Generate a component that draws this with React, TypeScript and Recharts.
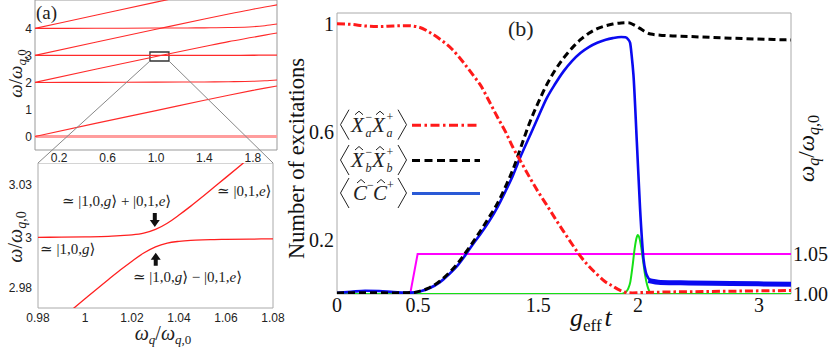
import React from 'react';
import { LineChart, Line, XAxis, YAxis, ReferenceArea, ReferenceLine, ReferenceDot, Legend } from 'recharts';

const SERIF = "'Liberation Serif','DejaVu Serif',serif";
const SANS = "'Liberation Sans','DejaVu Sans',sans-serif";

// ---------- Panel (a), top: energy levels vs omega_q / omega_q,0
const levelX = [0, 0.5, 1.0, 1.4, 1.6, 1.8, 1.9, 2.0];
const levelH0 = [0, 0, 0, 0, 0, 0, 0, 0];
const levelQ0 = [0, 0.485, 0.958, 1.339, 1.526, 1.705, 1.79, 1.87];
const levelH2 = [2, 2.003, 2.012, 2.018, 2.026, 2.041, 2.06, 2.09];
const levelQ2 = [2, 2.485, 2.958, 3.33, 3.51, 3.67, 3.75, 3.83];
const levelH3 = [3, 3, 3, 3, 3.003, 3.006, 3.008, 3.01];
const levelQ3 = [3, 3.485, 3.965, 4.345, 4.53, 4.71, 4.79, 4.87];
const levelH4 = [4, 4.003, 4.012, 4.02, 4.03, 4.06, 4.1, 4.16];
const levelQ4 = [4, 4.485, 4.97, 5.35, 5.54, 5.73, 5.82, 5.9];
const levelXTicks = [0.2, 0.6, 1.0, 1.4, 1.8];
const levelXTickLabels = ['0.2', '0.6', '1.0', '1.4', '1.8'];
const levelYTicks = [0, 1, 2, 3, 4];

// ---------- Panel (a), inset: avoided crossing
const insetX = [0.98, 0.99, 1.0, 1.01, 1.015, 1.02, 1.025, 1.03, 1.035, 1.04, 1.045, 1.05, 1.055, 1.06, 1.07, 1.08];
const insetUpper = [3.0003, 3.0004, 3.0005, 3.0007, 3.001, 3.0013, 3.002, 3.0035, 3.006, 3.0093, 3.0129, 3.0167, 3.0206, 3.0245, 3.0324, 3.0403];
const insetLower = [2.9597, 2.9676, 2.9755, 2.9833, 2.9871, 2.9907, 2.994, 2.9965, 2.998, 2.9987, 2.9991, 2.9993, 2.9994, 2.9995, 2.9996, 2.9997];
const insetXTicks = [0.98, 1.0, 1.02, 1.04, 1.06, 1.08];
const insetXTickLabels = ['0.98', '1', '1.02', '1.04', '1.06', '1.08'];
const insetYTicks = [2.98, 3.0, 3.0214];
const insetYTickLabels = ['2.98', '3', '3.03'];

// ---------- Panel (b): excitations vs g_eff t
const bXTicks = [0, 0.575, 1.43, 2.14, 3.0];
const bXTickLabels = ['0', '0.5', '1.5', '2', '3'];
const bLeftTicks = [0.2, 0.6, 1];
const bRightTicks = [1.0, 1.05];

const xaT = [0, 0.1, 0.2, 0.3, 0.4, 0.5, 0.58, 0.66, 0.74, 0.82, 0.9, 0.97, 1.02, 1.08, 1.14, 1.2, 1.25, 1.31, 1.37, 1.43, 1.49, 1.55, 1.61, 1.67, 1.73, 1.79, 1.85, 1.9, 1.96, 2.01, 2.06, 2.1, 2.15, 2.3, 2.6, 2.9, 3.227];
const xaN = [1.0, 0.998, 0.992, 0.99, 0.992, 0.993, 0.988, 0.968, 0.94, 0.905, 0.856, 0.808, 0.773, 0.715, 0.655, 0.598, 0.543, 0.487, 0.431, 0.378, 0.33, 0.28, 0.232, 0.185, 0.14, 0.103, 0.072, 0.048, 0.029, 0.014, 0.005, 0.004, 0.005, 0.007, 0.009, 0.011, 0.013];

const xbT = [0, 0.2, 0.4, 0.5, 0.55, 0.6, 0.66, 0.73, 0.79, 0.85, 0.91, 0.97, 1.02, 1.08, 1.14, 1.2, 1.25, 1.31, 1.37, 1.43, 1.49, 1.55, 1.61, 1.67, 1.73, 1.79, 1.85, 1.91, 1.96, 2.02, 2.07, 2.11, 2.15, 2.19, 2.23, 2.32, 2.5, 2.8, 3.227];
const xbN = [0.004, 0.005, 0.004, 0.005, 0.006, 0.012, 0.024, 0.047, 0.075, 0.108, 0.15, 0.195, 0.234, 0.283, 0.335, 0.4, 0.46, 0.548, 0.635, 0.708, 0.774, 0.828, 0.873, 0.91, 0.941, 0.965, 0.982, 0.993, 0.999, 1.003, 1.004, 0.996, 0.984, 0.971, 0.962, 0.957, 0.953, 0.947, 0.94];

const cT = [0, 0.1, 0.2, 0.3, 0.4, 0.5, 0.55, 0.6, 0.66, 0.73, 0.79, 0.85, 0.91, 0.97, 1.02, 1.08, 1.14, 1.2, 1.25, 1.31, 1.37, 1.43, 1.49, 1.55, 1.61, 1.67, 1.73, 1.79, 1.85, 1.91, 1.96, 2.02, 2.05, 2.07, 2.083, 2.095, 2.107, 2.131, 2.154, 2.178, 2.195, 2.213, 2.24];
const cN = [0.004, 0.008, 0.012, 0.011, 0.007, 0.005, 0.006, 0.011, 0.022, 0.043, 0.07, 0.101, 0.142, 0.187, 0.222, 0.268, 0.321, 0.383, 0.438, 0.515, 0.585, 0.655, 0.724, 0.777, 0.824, 0.862, 0.892, 0.914, 0.93, 0.941, 0.947, 0.951, 0.95, 0.942, 0.93, 0.88, 0.812, 0.565, 0.318, 0.133, 0.08, 0.059, 0.047];
const cTailT = [2.213, 2.3, 2.5, 2.8, 3.227];
const cTailN = [0.05, 0.043, 0.041, 0.039, 0.036];

const gT = [0, 2.02, 2.05, 2.07, 2.085, 2.1, 2.115, 2.128, 2.138, 2.148, 2.16, 2.175, 2.19, 2.205, 2.22, 2.24, 2.26, 3.227];
const gN = [0, 0, 0.006, 0.02, 0.045, 0.1, 0.165, 0.205, 0.218, 0.21, 0.18, 0.125, 0.07, 0.032, 0.01, 0.001, 0, 0];

const mT = [0, 0.52, 0.573, 3.227];
const mN = [1.0, 1.0, 1.05, 1.05];

// ---------- tables built from the arrays
const levelRows = levelX.map((x, i) => ({
  x, h0: levelH0[i], q0: levelQ0[i], h2: levelH2[i], q2: levelQ2[i], h3: levelH3[i],
  q3: levelQ3[i], h4: levelH4[i], q4: levelQ4[i],
}));
const insetRows = insetX.map((x, i) => ({ x, upper: insetUpper[i], lower: insetLower[i] }));
const zip = (xs: number[], ys: number[]) => xs.map((x, i) => ({ x, y: ys[i] }));
const xaData = zip(xaT, xaN);
const xbData = zip(xbT, xbN);
const cData = zip(cT, cN);
const cTailData = zip(cTailT, cTailN);
const gData = zip(gT, gN);
const mData = zip(mT, mN);

const fmt = (ticks: number[], labels: string[]) => (v: number) => {
  const i = ticks.findIndex((t) => Math.abs(t - v) < 1e-9);
  return i >= 0 ? labels[i] : String(v);
};

const RED = '#ff2a2a';

function Ket({ cx, cy, parts, size }: any) {
  return (
    <text x={cx} y={cy} fontFamily={SERIF} fontSize={size} fill="#222">
      {parts.map((p: any, i: number) => (
        <tspan key={i} fontStyle={p.it ? 'italic' : 'normal'}>{p.t}</tspan>
      ))}
    </text>
  );
}

const ketPlus = [{ t: '≃ |1,0,' }, { t: 'g', it: true }, { t: '⟩ + |0,1,' }, { t: 'e', it: true }, { t: '⟩' }];
const ketMinus = [{ t: '≃ |1,0,' }, { t: 'g', it: true }, { t: '⟩ − |0,1,' }, { t: 'e', it: true }, { t: '⟩' }];
const ketE = [{ t: '≃ |0,1,' }, { t: 'e', it: true }, { t: '⟩' }];
const ketG = [{ t: '≃ |1,0,' }, { t: 'g', it: true }, { t: '⟩' }];

function LegendBox() {
  const rows = [
    { cy: 24.7, kind: 'X', sub: 'a', color: '#ff1a1a', dash: '9 3.5 2.5 3.5' },
    { cy: 60, kind: 'X', sub: 'b', color: '#000', dash: '8 4.5' },
    { cy: 93, kind: 'C', sub: '', color: '#2a5ad6', dash: undefined as any },
  ];
  return (
    <svg width={150} height={115} style={{ overflow: 'visible' }}>
      {rows.map((r, k) => {
        const L = r.kind === 'X' ? 'X' : 'C';
        const x1 = r.kind === 'X' ? 15 : 17;
        const x2 = r.kind === 'X' ? 36 : 37;
        const s1 = r.kind === 'X' ? 29.5 : 31;
        const s2 = r.kind === 'X' ? 50.5 : 51;
        return (
          <g key={k}>
            <path d={`M13 ${r.cy - 15} L4.5 ${r.cy} L13 ${r.cy + 15}`} stroke="#222" fill="none" strokeWidth={1} />
            <path d={`M62 ${r.cy - 15} L70.5 ${r.cy} L62 ${r.cy + 15}`} stroke="#222" fill="none" strokeWidth={1} />
            <text x={x1} y={r.cy + 7} fontFamily={SERIF} fontStyle="italic" fontSize={21} fill="#222">{L}</text>
            <path d={`M${x1 + 4} ${r.cy - 10} L${x1 + 8} ${r.cy - 13.5} L${x1 + 12} ${r.cy - 10}`} stroke="#222" fill="none" strokeWidth={1} />
            <text x={s1} y={r.cy - 4} fontFamily={SERIF} fontSize={12} fill="#222">−</text>
            {r.sub && <text x={s1} y={r.cy + 12} fontFamily={SERIF} fontStyle="italic" fontSize={12} fill="#222">{r.sub}</text>}
            <text x={x2} y={r.cy + 7} fontFamily={SERIF} fontStyle="italic" fontSize={21} fill="#222">{L}</text>
            <path d={`M${x2 + 4} ${r.cy - 10} L${x2 + 8} ${r.cy - 13.5} L${x2 + 12} ${r.cy - 10}`} stroke="#222" fill="none" strokeWidth={1} />
            <text x={s2} y={r.cy - 4} fontFamily={SERIF} fontSize={12} fill="#222">+</text>
            {r.sub && <text x={s2} y={r.cy + 12} fontFamily={SERIF} fontStyle="italic" fontSize={12} fill="#222">{r.sub}</text>}
            <line x1={76} x2={144} y1={r.cy + 0.5} y2={r.cy + 0.5} stroke={r.color} strokeWidth={3} strokeDasharray={r.dash} />
          </g>
        );
      })}
    </svg>
  );
}

export default function App() {
  const topTick = { fontSize: 12, fill: '#222', fontFamily: SANS };
  const bTick = { fontSize: 20, fill: '#111', fontFamily: SERIF };
  return (
    <div style={{ position: 'absolute', left: 0, top: 0, width: 830, height: 348, background: '#fff', overflow: 'hidden' }}>
      {/* Panel (a) top */}
      <div style={{ position: 'absolute', left: 0, top: 0 }}>
        <LineChart width={280} height={170} data={levelRows} margin={{ top: 0, right: 3, bottom: 0, left: 0 }}>
          <XAxis dataKey="x" type="number" domain={[0, 2]} ticks={levelXTicks} tickFormatter={fmt(levelXTicks, levelXTickLabels)}
            axisLine={false} tickLine={false} tickSize={0} tickMargin={3} height={20} interval={0} tick={topTick} allowDataOverflow />
          <YAxis type="number" domain={[-0.5, 5.05]} ticks={levelYTicks} width={35} axisLine={false} tickLine={false}
            tickSize={0} tickMargin={3} interval={0} tick={topTick} allowDataOverflow />
          <ReferenceArea x1={0} x2={2} y1={-0.5} y2={5.05} fill="none" stroke="#999" strokeWidth={1} />
          <Line dataKey="h0" stroke="#ff9d9d" strokeWidth={3} dot={false} isAnimationActive={false} type="linear" />
          <Line dataKey="q0" stroke={RED} strokeWidth={1.1} dot={false} isAnimationActive={false} type="monotone" />
          <Line dataKey="h2" stroke={RED} strokeWidth={1.1} dot={false} isAnimationActive={false} type="monotone" />
          <Line dataKey="q2" stroke={RED} strokeWidth={1.1} dot={false} isAnimationActive={false} type="monotone" />
          <Line dataKey="h3" stroke={RED} strokeWidth={1.3} dot={false} isAnimationActive={false} type="monotone" />
          <Line dataKey="q3" stroke={RED} strokeWidth={1.1} dot={false} isAnimationActive={false} type="monotone" />
          <Line dataKey="h4" stroke={RED} strokeWidth={1.1} dot={false} isAnimationActive={false} type="monotone" />
          <Line dataKey="q4" stroke={RED} strokeWidth={1.1} dot={false} isAnimationActive={false} type="monotone" />
          <ReferenceArea x1={0.95} x2={1.107} y1={2.793} y2={3.126} fill="none" stroke="#333" strokeWidth={1.3} />
          <ReferenceLine segment={[{ x: 0.95, y: 2.793 }, { x: 0.025, y: -0.981 }]} stroke="#888" strokeWidth={1} ifOverflow="visible" />
          <ReferenceLine segment={[{ x: 1.107, y: 2.793 }, { x: 1.967, y: -0.981 }]} stroke="#888" strokeWidth={1} ifOverflow="visible" />
        </LineChart>
      </div>

      {/* Panel (a) inset */}
      <div style={{ position: 'absolute', left: 0, top: 163 }}>
        <LineChart width={292} height={185} data={insetRows} margin={{ top: 0, right: 19, bottom: 0, left: 0 }}>
          <XAxis dataKey="x" type="number" domain={[0.98, 1.08]} ticks={insetXTicks} tickFormatter={fmt(insetXTicks, insetXTickLabels)}
            axisLine={false} tickLine={false} tickSize={0} tickMargin={5} height={40} interval={0} tick={topTick} allowDataOverflow />
          <YAxis type="number" domain={[2.9718, 3.0303]} ticks={insetYTicks} tickFormatter={fmt(insetYTicks, insetYTickLabels)}
            width={38} axisLine={false} tickLine={false} tickSize={0} tickMargin={6} interval={0} tick={topTick} allowDataOverflow />
          <ReferenceArea x1={0.98} x2={1.08} y1={2.9718} y2={3.0303} fill="none" stroke="#aaa" strokeWidth={1} />
          <Line dataKey="upper" stroke="#ff2020" strokeWidth={1.3} dot={false} isAnimationActive={false} type="monotone" />
          <Line dataKey="lower" stroke="#ff2020" strokeWidth={1.3} dot={false} isAnimationActive={false} type="monotone" />
          <ReferenceDot x={0.9902} y={3.013} r={0} shape={(p: any) => <Ket cx={p.cx} cy={p.cy} parts={ketPlus} size={15} />} />
          <ReferenceDot x={1.0562} y={3.017} r={0} shape={(p: any) => <Ket cx={p.cx} cy={p.cy} parts={ketE} size={15} />} />
          <ReferenceDot x={0.9809} y={2.9937} r={0} shape={(p: any) => <Ket cx={p.cx} cy={p.cy} parts={ketG} size={15} />} />
          <ReferenceDot x={1.0204} y={2.9824} r={0} shape={(p: any) => <Ket cx={p.cx} cy={p.cy} parts={ketMinus} size={15} />} />
          <ReferenceDot x={1.0297} y={3.0045} r={0} shape={(p: any) => (
            <path d={`M${p.cx - 2} ${p.cy - 14} h4 v7 h3 l-5 7 l-5 -7 h3 z`} fill="#111" />
          )} />
          <ReferenceDot x={1.0301} y={2.9941} r={0} shape={(p: any) => (
            <path d={`M${p.cx - 2} ${p.cy + 13} h4 v-6 h3 l-5 -7 l-5 7 h3 z`} fill="#111" />
          )} />
        </LineChart>
      </div>

      {/* Panel (b) */}
      <div style={{ position: 'absolute', left: 290, top: 0 }}>
        <LineChart width={540} height={348} margin={{ top: 13, right: 0, bottom: 0, left: 0 }}>
          <XAxis dataKey="x" type="number" domain={[0, 3.227]} ticks={bXTicks} tickFormatter={fmt(bXTicks, bXTickLabels)}
            axisLine={false} tickLine={false} tickSize={0} tickMargin={4} height={54} interval={0} tick={bTick} allowDataOverflow />
          <YAxis yAxisId="left" type="number" domain={[0, 1.04]} ticks={bLeftTicks} width={47} axisLine={false} tickLine={false}
            tickSize={0} tickMargin={3} interval={0} tick={bTick} allowDataOverflow />
          <YAxis yAxisId="right" orientation="right" type="number" domain={[1.0, 1.351]} ticks={bRightTicks}
            tickFormatter={(v: number) => v.toFixed(2)} width={39} axisLine={false} tickLine={false} tickSize={0} tickMargin={2}
            interval={0} tick={bTick} allowDataOverflow />
          <ReferenceArea yAxisId="left" x1={0} x2={3.227} y1={0} y2={1.04} fill="none" stroke="#aaa" strokeWidth={1} />
          <Line yAxisId="right" data={mData} dataKey="y" name="omega_q" stroke="#ff00ff" strokeWidth={2} dot={false} isAnimationActive={false} type="linear" />
          <Line yAxisId="left" data={gData} dataKey="y" name="g" stroke="#16e016" strokeWidth={2} dot={false} isAnimationActive={false} type="monotone" />
          <Line yAxisId="left" data={cTailData} dataKey="y" name="C tail" stroke="#0a0af0" strokeWidth={5} dot={false} isAnimationActive={false} type="monotone" />
          <Line yAxisId="left" data={cData} dataKey="y" name="C" stroke="#0a0af0" strokeWidth={2.6} dot={false} isAnimationActive={false} type="monotone" />
          <Line yAxisId="left" data={xbData} dataKey="y" name="Xb" stroke="#000" strokeWidth={3} strokeDasharray="7 4" dot={false} isAnimationActive={false} type="monotone" />
          <Line yAxisId="left" data={xaData} dataKey="y" name="Xa" stroke="#ff1a1a" strokeWidth={3} strokeDasharray="8 3 2.5 3" dot={false} isAnimationActive={false} type="monotone" />
          <Legend layout="horizontal" verticalAlign="middle" align="center" width={150} height={115}
            wrapperStyle={{ left: 46, top: 100, width: 150, height: 115 }} content={() => <LegendBox />} />
        </LineChart>
      </div>

      {/* titles */}
      <svg width={830} height={348} style={{ position: 'absolute', left: 0, top: 0, pointerEvents: 'none' }}>
        <text x={36} y={19} fontFamily={SERIF} fontSize={19} fill="#222">(a)</text>
        <text transform="translate(22,73.5) rotate(-90)" textAnchor="middle" fontFamily={SERIF} fontSize={19} fill="#222">
          <tspan fontStyle="italic">ω</tspan><tspan>/</tspan><tspan fontStyle="italic">ω</tspan>
          <tspan dy={4} fontSize={13}><tspan fontStyle="italic">q</tspan>,0</tspan>
        </text>
        <text transform="translate(22,237) rotate(-90)" textAnchor="middle" fontFamily={SERIF} fontSize={20} fill="#222">
          <tspan fontStyle="italic">ω</tspan><tspan>/</tspan><tspan fontStyle="italic">ω</tspan>
          <tspan dy={4} fontSize={14}><tspan fontStyle="italic">q</tspan>,0</tspan>
        </text>
        <text x={163} y={340} textAnchor="middle" fontFamily={SERIF} fontSize={20} fill="#222">
          <tspan fontStyle="italic">ω</tspan><tspan dy={4} fontSize={13} fontStyle="italic">q</tspan>
          <tspan dy={-4}>/</tspan><tspan fontStyle="italic">ω</tspan>
          <tspan dy={4} fontSize={13}><tspan fontStyle="italic">q</tspan>,0</tspan>
        </text>
        <text x={508} y={36} fontFamily={SERIF} fontSize={22} fill="#222">(b)</text>
        <text transform="translate(304,158.5) rotate(-90)" textAnchor="middle" fontFamily={SERIF} fontSize={22.5} fill="#111">
          Number of excitations
        </text>
        <text x={570} y={326} fontFamily={SERIF} fontSize={26} fill="#111">
          <tspan fontStyle="italic">g</tspan><tspan dy={5} fontSize={17}>eff</tspan><tspan dy={-5} dx={3} fontStyle="italic">t</tspan>
        </text>
        <text transform="translate(813.5,148.5) rotate(-90)" textAnchor="middle" fontFamily={SERIF} fontSize={23} fill="#111">
          <tspan fontStyle="italic">ω</tspan><tspan dy={5} fontSize={16} fontStyle="italic">q</tspan>
          <tspan dy={-5}>/</tspan><tspan fontStyle="italic">ω</tspan>
          <tspan dy={5} fontSize={16}><tspan fontStyle="italic">q</tspan>,0</tspan>
        </text>
      </svg>
    </div>
  );
}
